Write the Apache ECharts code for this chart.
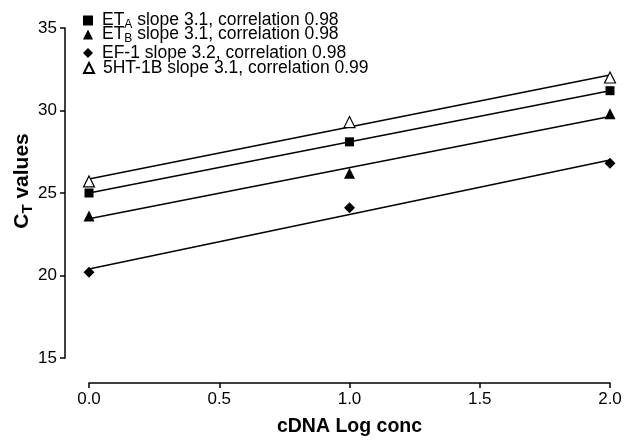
<!DOCTYPE html>
<html>
<head>
<meta charset="utf-8">
<script src="https://cdn.jsdelivr.net/npm/echarts@6/dist/echarts.min.js"></script>
<style>
  html, body { margin: 0; padding: 0; background: #fff; }
  #chart { width: 629px; height: 442px; }
</style>
</head>
<body>
<div id="chart"></div>
<script>
// log concentration of cDNA
var xVals = [0, 1, 2]
// CT values
var etA = [25.0, 28.1, 31.2]
var etB = [23.6, 26.2, 29.8]
var ef1 = [20.2, 24.1, 26.8]
var ht1b = [25.7, 29.3, 32.0]
var yTicks = [15, 20, 25, 30, 35]
var xTicks = [0.0, 0.5, 1.0, 1.5, 2.0]
var legendLabels = {
  ETA: '{b|ET}{s|A}{b| slope 3.1, correlation 0.98}',
  ETB: '{b|ET}{s|B}{b| slope 3.1, correlation 0.98}',
  'EF-1': '{b|EF-1 slope 3.2, correlation 0.98}',
  '5HT-1B': '{b|5HT-1B slope 3.1, correlation 0.99}'
}

var font = 'Liberation Sans, Arial, sans-serif'

// least squares line through the points, drawn across the x range
function fitLine (xs, ys) {
  var n = xs.length
  var mx = 0, my = 0
  for (var i = 0; i < n; i++) { mx += xs[i]; my += ys[i] }
  mx /= n; my /= n
  var sxy = 0, sxx = 0
  for (var j = 0; j < n; j++) {
    sxy += (xs[j] - mx) * (ys[j] - my)
    sxx += (xs[j] - mx) * (xs[j] - mx)
  }
  var b = sxy / sxx
  var a = my - b * mx
  var x0 = xs[0], x1 = xs[n - 1]
  return [[x0, a + b * x0], [x1, a + b * x1]]
}

function pts (ys) {
  return xVals.map(function (x, i) { return [x, ys[i]] })
}

var sets = [
  { name: 'ETA', data: etA, symbol: 'rect', size: 9, fill: '#000', row: 10 },
  { name: 'ETB', data: etB, symbol: 'triangle', size: 11, fill: '#000', row: 24 },
  { name: 'EF-1', data: ef1, symbol: 'diamond', size: 11, fill: '#000', row: 44 },
  { name: '5HT-1B', data: ht1b, symbol: 'triangle', size: 11, fill: '#fff', row: 59 }
]

var series = []
sets.forEach(function (s) {
  series.push({
    name: s.name + ' fit',
    type: 'line',
    data: fitLine(xVals, s.data),
    symbol: 'none',
    silent: true,
    lineStyle: { color: '#000', width: 1.5 },
    z: 1
  })
})
sets.forEach(function (s) {
  series.push({
    name: s.name,
    type: 'scatter',
    data: pts(s.data),
    symbol: s.symbol,
    symbolSize: s.size,
    itemStyle: { color: s.fill, borderColor: '#000', borderWidth: s.fill === '#fff' ? 1.2 : 0, opacity: 1 },
    z: 3
  })
})

// one legend per row so the rows sit where they do in the figure
var legends = sets.map(function (s) {
  return {
    data: [s.name],
    left: 83,
    top: s.row,
    padding: 0,
    itemWidth: 10,
    itemHeight: 10,
    itemGap: 0,
    formatter: function (name) { return legendLabels[name] },
    textStyle: {
      color: '#000',
      fontFamily: font,
      padding: [0, 0, 0, 4],
      rich: {
        b: { fontSize: 17.5, lineHeight: 18, fontFamily: font, color: '#000' },
        s: { fontSize: 12, lineHeight: 12, fontFamily: font, color: '#000', padding: [9, 0, 0, 0] }
      }
    }
  }
})

var chart = echarts.init(document.getElementById('chart'))
chart.setOption({
  animation: false,
  backgroundColor: '#fff',
  legend: legends,
  grid: { left: 89, right: 19, top: 28, bottom: 81, containLabel: false },
  xAxis: {
    type: 'value',
    min: 0,
    max: 2,
    interval: 0.5,
    offset: 25,
    name: 'cDNA Log conc',
    nameLocation: 'middle',
    nameGap: 34,
    nameMoveOverlap: false,
    nameTextStyle: { fontFamily: font, fontSize: 19.5, fontWeight: 'bold', color: '#000' },
    axisLine: { show: true, onZero: false, lineStyle: { color: '#000', width: 1.5 } },
    axisTick: { show: true, inside: false, length: 5, lineStyle: { color: '#000', width: 1.5 } },
    axisLabel: {
      color: '#000', fontFamily: font, fontSize: 17, margin: 8,
      formatter: function (v) { return xTicks.indexOf(v) >= 0 ? v.toFixed(1) : '' }
    },
    splitLine: { show: false }
  },
  yAxis: {
    type: 'value',
    min: yTicks[0],
    max: yTicks[yTicks.length - 1],
    interval: 5,
    offset: 24,
    name: '{a|C}{s|T}{a| values}',
    nameLocation: 'middle',
    nameRotate: 90,
    nameGap: 30,
    nameMoveOverlap: false,
    nameTextStyle: {
      color: '#000',
      padding: [0, 0, 0, 24],
      rich: {
        a: { fontFamily: font, fontSize: 21, fontWeight: 'bold', color: '#000' },
        s: { fontFamily: font, fontSize: 15, fontWeight: 'bold', color: '#000', padding: [10, 0, 0, 0] }
      }
    },
    axisLine: { show: true, onZero: false, lineStyle: { color: '#000', width: 1.5 } },
    axisTick: { show: true, inside: false, length: 5, lineStyle: { color: '#000', width: 1.5 } },
    axisLabel: { color: '#000', fontFamily: font, fontSize: 17, margin: 8 },
    splitLine: { show: false }
  },
  series: series
})
</script>
</body>
</html>
